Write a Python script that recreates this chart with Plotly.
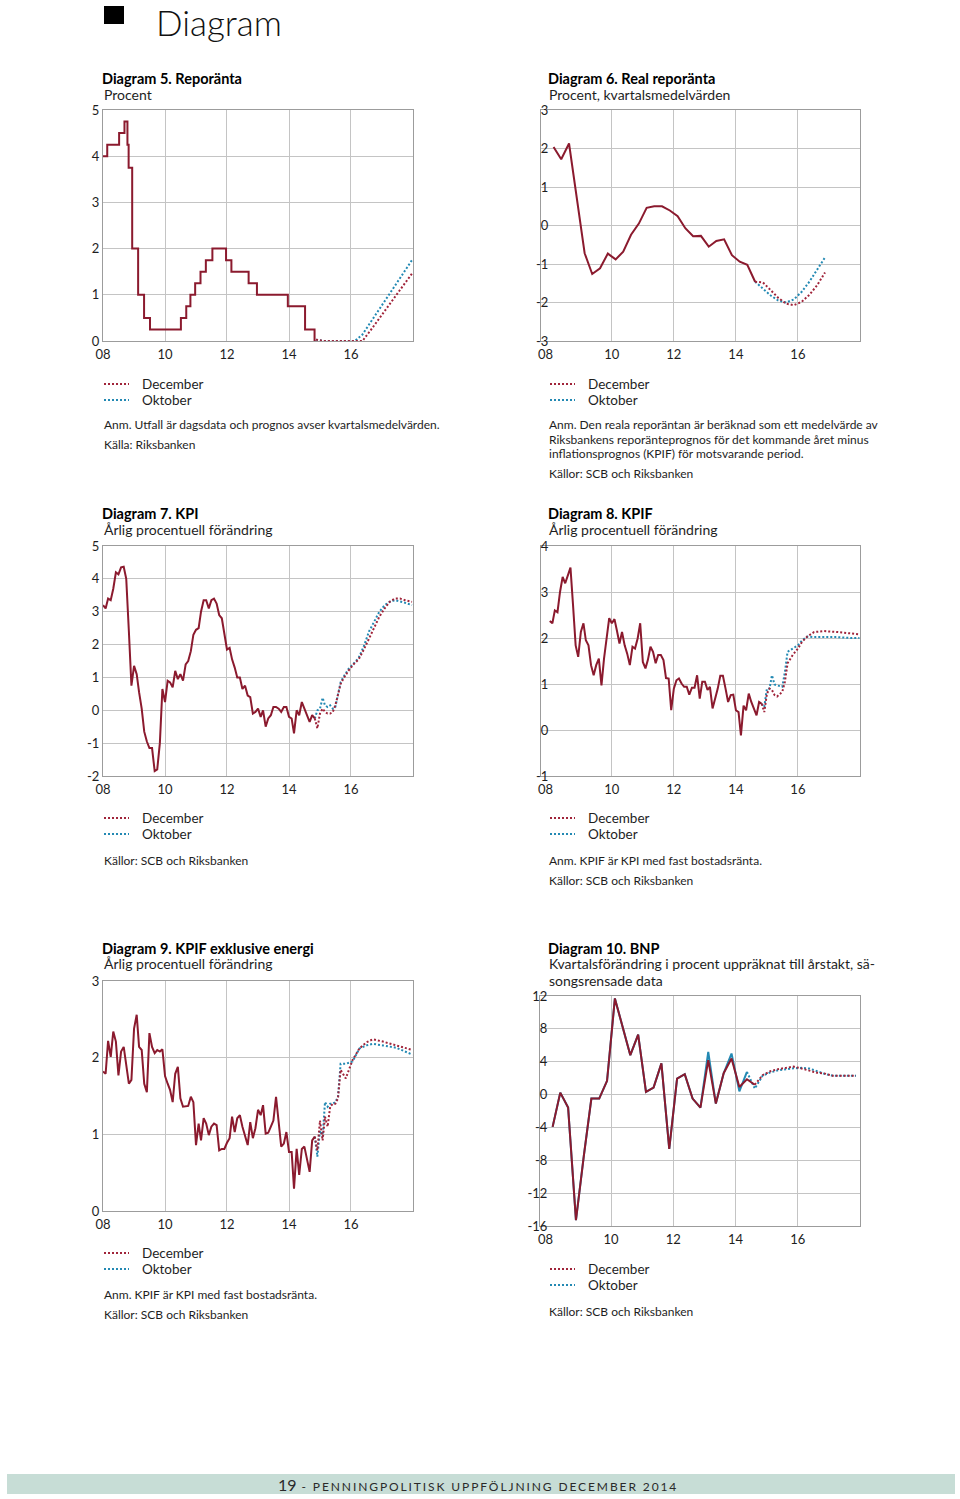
import pandas as pd
import plotly.graph_objects as go

# ------------------------------------------------------------------ data
# Diagram 5. Reporänta
repo_dates = ["2008-01-01", "2008-02-20", "2008-07-09", "2008-09-10", "2008-10-15", "2008-10-29",
              "2008-12-10", "2009-02-18", "2009-04-29", "2009-07-08", "2010-07-07", "2010-09-08",
              "2010-10-27", "2010-12-22", "2011-02-23", "2011-04-27", "2011-07-13", "2011-12-21",
              "2012-02-22", "2012-09-12", "2012-12-19", "2013-12-18", "2014-07-09", "2014-10-29",
              "2014-11-12"]
repo_values = [4.0, 4.25, 4.5, 4.75, 4.25, 3.75, 2.0, 1.0, 0.5, 0.25, 0.5, 0.75, 1.0, 1.25, 1.5,
               1.75, 2.0, 1.75, 1.5, 1.25, 1.0, 0.75, 0.25, 0.0, 0.0]
repo_fc_dates = ["2014-11-15", "2015-02-15", "2015-05-15", "2015-08-15", "2015-11-15", "2016-02-15",
                 "2016-05-15", "2016-08-15", "2016-11-15", "2017-02-15", "2017-05-15", "2017-08-15",
                 "2017-12-20"]
repo_fc_dec = [0.03, 0.0, 0.0, 0.0, 0.0, 0.0, 0.0, 0.22, 0.45, 0.68, 0.9, 1.13, 1.46]
repo_fc_okt = [0.03, 0.0, 0.0, 0.0, 0.0, 0.0, 0.14, 0.39, 0.64, 0.89, 1.13, 1.38, 1.75]

# Diagram 6. Real reporänta (quarterly)
q_dates = [f"{y}-{m:02d}-15" for y in range(2008, 2015) for m in (2, 5, 8, 11)][:27]
real_values = [2.04, 1.72, 2.13, 0.75, -0.72, -1.26, -1.11, -0.73, -0.88, -0.68, -0.24, 0.05,
               0.46, 0.50, 0.50, 0.39, 0.24, -0.07, -0.28, -0.27, -0.55, -0.40, -0.36, -0.77,
               -0.94, -1.02, -1.46]
real_fc_dates = ["2014-08-15", "2014-11-15", "2015-02-15", "2015-05-15", "2015-08-15", "2015-11-15",
                 "2016-02-15", "2016-05-15", "2016-08-15", "2016-11-15"]
real_fc_dec = [-1.46, -1.48, -1.68, -1.88, -2.03, -2.07, -1.98, -1.80, -1.55, -1.22]
real_fc_okt = [-1.46, -1.65, -1.82, -1.95, -2.00, -1.92, -1.72, -1.46, -1.15, -0.83]

# monthly outcome dates Jan 2008 - Nov 2014
m_dates = pd.date_range("2008-01-01", periods=83, freq="MS")

# Diagram 7. KPI
kpi_values = [3.2, 3.1, 3.4, 3.35, 3.7, 4.2, 4.14, 4.35, 4.37, 4.0, 2.4, 0.75,
              1.35, 1.1, 0.55, 0.05, -0.65, -0.95, -1.15, -1.15, -1.85, -1.8, -1.0, 0.65,
              0.25, 0.9, 0.85, 0.7, 1.2, 0.95, 1.1, 0.9, 1.4, 1.5, 1.8, 2.3,
              2.45, 2.5, 3.0, 3.35, 3.35, 3.1, 3.35, 3.4, 3.25, 2.9, 2.8, 2.35,
              1.85, 1.9, 1.55, 1.3, 1.0, 1.0, 0.65, 0.75, 0.45, 0.4, -0.1, -0.05,
              0.05, -0.2, 0.0, -0.5, -0.25, -0.15, 0.1, 0.1, 0.05, -0.05, 0.1, 0.1,
              -0.2, -0.25, -0.7, 0.0, -0.15, 0.25, 0.05, -0.15, -0.35, -0.15, -0.25]
kpi_fc_dates = ["2014-11-01", "2014-12-01", "2015-01-01", "2015-02-01", "2015-03-01", "2015-04-01",
                "2015-05-01", "2015-06-01", "2015-07-01", "2015-08-01", "2015-09-01", "2015-10-01",
                "2015-11-01", "2015-12-01", "2016-02-01", "2016-04-01", "2016-06-01", "2016-08-01",
                "2016-10-01", "2016-12-01", "2017-02-01", "2017-04-01", "2017-06-01", "2017-08-01",
                "2017-10-01", "2017-12-20"]
kpi_fc_dec = [-0.25, -0.55, -0.1, 0.05, -0.05, -0.1, -0.1, -0.05, 0.15, 0.45, 0.8, 0.95,
              1.1, 1.2, 1.4, 1.55, 1.85, 2.2, 2.55, 2.85, 3.1, 3.3, 3.4, 3.4, 3.35, 3.3]
kpi_fc_okt = [-0.25, 0.0, 0.05, 0.38, 0.15, 0.1, 0.15, 0.05, 0.1, 0.5, 0.85, 1.0,
              1.15, 1.25, 1.42, 1.6, 1.95, 2.4, 2.7, 3.0, 3.2, 3.3, 3.35, 3.32, 3.27, 3.2]

# Diagram 8. KPIF
kpif_values = [2.37, 2.32, 2.6, 2.56, 3.0, 3.33, 3.19, 3.38, 3.53, 2.72, 1.84, 1.59,
               2.13, 2.32, 1.95, 1.84, 1.41, 1.19, 1.41, 1.55, 0.97, 1.55, 2.06, 2.43,
               2.32, 2.41, 2.17, 1.88, 2.13, 1.84, 1.66, 1.41, 1.81, 1.77, 1.99, 2.32,
               1.48, 1.34, 1.52, 1.81, 1.7, 1.45, 1.63, 1.63, 1.52, 1.13, 1.12, 0.43,
               0.9, 1.08, 1.12, 1.01, 0.94, 0.94, 0.77, 0.92, 0.92, 1.19, 0.68, 1.05,
               1.05, 0.87, 0.94, 0.47, 0.68, 0.9, 1.18, 1.18, 0.9, 0.61, 0.76, 0.77,
               0.43, 0.39, -0.12, 0.53, 0.43, 0.79, 0.61, 0.47, 0.32, 0.61, 0.57]
kpif_fc_dates = ["2014-11-01", "2014-12-01", "2015-01-01", "2015-02-01", "2015-03-01", "2015-04-01",
                 "2015-05-01", "2015-07-01", "2015-08-01", "2015-09-01", "2015-11-01", "2016-01-01",
                 "2016-02-20", "2016-04-20", "2016-07-10", "2016-11-05", "2017-04-10", "2017-09-15",
                 "2017-12-25"]
kpif_fc_dec = [0.57, 0.39, 0.79, 0.9, 0.87, 0.76, 0.73, 0.83, 1.05, 1.45, 1.63, 1.77,
               1.92, 2.03, 2.13, 2.15, 2.13, 2.1, 2.08]
kpif_fc_okt = [0.57, 0.5, 0.9, 0.9, 1.19, 0.99, 0.97, 0.94, 1.26, 1.7, 1.77, 1.84,
               1.95, 2.03, 2.02, 2.02, 2.02, 2.0, 2.0]

# Diagram 9. KPIF exklusive energi
kpifx_values = [1.82, 1.79, 2.22, 2.01, 2.34, 2.21, 1.77, 2.08, 2.14, 1.88, 1.66, 1.71,
                2.38, 2.56, 2.14, 2.1, 1.66, 1.55, 2.32, 2.14, 2.06, 2.1, 2.08, 2.11,
                1.76, 1.66, 1.58, 1.42, 1.79, 1.88, 1.47, 1.36, 1.37, 1.37, 1.49, 1.42,
                0.86, 1.14, 0.92, 1.21, 1.14, 0.99, 1.1, 1.14, 1.12, 0.79, 0.81, 0.81,
                0.89, 0.95, 1.23, 1.03, 1.21, 1.25, 1.1, 0.97, 0.86, 1.16, 0.95, 1.08,
                1.32, 1.25, 1.38, 1.01, 1.02, 1.1, 1.18, 1.49, 1.18, 0.84, 0.88, 1.03,
                0.77, 0.77, 0.29, 0.81, 0.47, 0.81, 0.84, 0.66, 0.51, 0.92, 0.97]
kpifx_fc_dates = ["2014-11-01", "2014-12-01", "2015-01-01", "2015-02-01", "2015-03-01", "2015-04-01",
                  "2015-05-01", "2015-06-01", "2015-07-01", "2015-08-01", "2015-09-01", "2015-10-01",
                  "2015-11-01", "2016-01-20", "2016-04-10", "2016-07-01", "2016-09-15", "2017-01-10",
                  "2017-06-15", "2017-12-25"]
kpifx_fc_dec = [0.97, 0.79, 1.18, 0.92, 1.23, 1.1, 1.36, 1.4, 1.4, 1.47, 1.84, 1.79,
                1.73, 1.97, 2.12, 2.2, 2.24, 2.21, 2.16, 2.1]
kpifx_fc_okt = [0.97, 0.71, 1.05, 0.97, 1.42, 1.36, 1.4, 1.4, 1.42, 1.49, 1.92, 1.92,
                1.92, 1.95, 2.12, 2.16, 2.18, 2.16, 2.13, 2.04]

# Diagram 10. BNP (quarterly)
bnp_dec = [-3.93, 0.24, -1.59, -15.3, -7.5, -0.49, -0.49, 1.67, 11.7, 8.46, 4.8, 7.3,
           0.33, 0.85, 3.8, -6.6, 1.95, 2.48, -0.49, -1.6, 4.2, -1.1, 2.6, 4.4,
           0.93, 1.87, 1.2]
bnp_okt = [-3.93, 0.24, -1.59, -15.3, -7.5, -0.49, -0.49, 1.67, 11.7, 8.46, 4.8, 7.3,
           0.33, 0.85, 3.8, -6.6, 1.95, 2.48, -0.49, -1.6, 5.2, -1.1, 2.6, 5.0,
           0.4, 2.76]
bnp_fc_dates_dec = ["2014-08-15", "2014-11-15", "2015-02-15", "2015-05-15", "2015-08-15",
                    "2015-11-15", "2016-02-15", "2016-05-15", "2016-08-15", "2016-11-15",
                    "2017-02-15", "2017-05-15", "2017-08-15", "2017-11-15"]
bnp_fc_dec = [1.2, 2.36, 2.85, 3.1, 3.25, 3.4, 3.17, 2.9, 2.66, 2.55, 2.3, 2.3, 2.3, 2.3]
bnp_fc_dates_okt = ["2014-05-15"] + bnp_fc_dates_dec
bnp_fc_okt = [2.76, 0.73, 2.3, 2.7, 2.95, 3.1, 3.2, 3.25, 3.17, 2.85, 2.5, 2.3, 2.3, 2.3, 2.3]

x_tick_years = ["2008-01-01", "2010-01-01", "2012-01-01", "2014-01-01", "2016-01-01"]
x_tick_text = ["08", "10", "12", "14", "16"]

# ------------------------------------------------------------------ style
W, H = 960, 1499
FONT = "Lato"
RED = "#8b1a2e"
RED_DOT = "#a0243a"
BLUE = "#2389b3"
GRID = "#c4c4c4"
FRAME = "#9c9c9c"
TXT = "#1e1e1e"
DOT = "2px,2px"


def px(x):
    return x / W


def py(y):
    return 1 - y / H


fig = go.Figure()

panels = {
    # n: (x0, x1, ytop, ybottom, yrange, ytick step, left column)
    1: (103, 413, 110, 341, (0, 5), 1, True),
    2: (541, 860, 110, 341, (-3, 3), 1, False),
    3: (103, 413, 546, 776, (-2, 5), 1, True),
    4: (541, 860, 546, 776, (-1, 4), 1, False),
    5: (103, 413, 981, 1211, (0, 3), 1, True),
    6: (540, 860, 996, 1226, (-16, 12), 4, False),
}

layout_axes = {}
for n, (x0, x1, yt, yb, yr, step, left) in panels.items():
    xs = "" if n == 1 else str(n)
    if left:
        xrange = ["2008-01-01", "2018-01-01"]
        tv, tt = x_tick_years, x_tick_text
    else:
        xrange = ["2007-09-20", "2018-01-01"]
        tv, tt = x_tick_years[1:], x_tick_text[1:]
    layout_axes["xaxis" + xs] = dict(
        domain=[px(x0), px(x1)], anchor="y" + xs, type="date", range=xrange,
        tickvals=tv, ticktext=tt, showgrid=True, gridcolor=GRID, gridwidth=1,
        showline=True, linecolor=FRAME, linewidth=1, mirror=True, ticks="",
        zeroline=False, tickfont=dict(family=FONT, size=13, color=TXT),
        ticklabelstandoff=1, automargin=False, fixedrange=True)
    yvals = list(range(yr[0], yr[1] + 1, step))
    layout_axes["yaxis" + xs] = dict(
        domain=[py(yb), py(yt)], anchor="x" + xs, range=list(yr), tickvals=yvals,
        ticktext=[str(v) for v in yvals], showgrid=True, gridcolor=GRID, gridwidth=1,
        showline=True, linecolor=FRAME, linewidth=1, mirror=True, ticks="",
        zeroline=False, tickfont=dict(family=FONT, size=13, color=TXT),
        ticklabelstandoff=(0 if left else -11), automargin=False, fixedrange=True)

fig.update_layout(**layout_axes)


def add_line(n, x, y, color, dotted=False, shape="linear"):
    xs = "" if n == 1 else str(n)
    fig.add_trace(go.Scatter(
        x=x, y=y, mode="lines", xaxis="x" + xs, yaxis="y" + xs, showlegend=False,
        hoverinfo="skip",
        line=dict(color=color, width=2, dash=(DOT if dotted else "solid"), shape=shape)))


# Diagram 5
add_line(1, repo_fc_dates, repo_fc_okt, BLUE, True)
add_line(1, repo_fc_dates, repo_fc_dec, RED_DOT, True)
add_line(1, repo_dates, repo_values, RED, shape="hv")
# Diagram 6
add_line(2, real_fc_dates, real_fc_okt, BLUE, True)
add_line(2, real_fc_dates, real_fc_dec, RED_DOT, True)
add_line(2, q_dates, real_values, RED)
# Diagram 7
add_line(3, kpi_fc_dates, kpi_fc_okt, BLUE, True)
add_line(3, kpi_fc_dates, kpi_fc_dec, RED_DOT, True)
add_line(3, m_dates, kpi_values, RED)
# Diagram 8
add_line(4, kpif_fc_dates, kpif_fc_okt, BLUE, True)
add_line(4, kpif_fc_dates, kpif_fc_dec, RED_DOT, True)
add_line(4, m_dates, kpif_values, RED)
# Diagram 9
add_line(5, kpifx_fc_dates, kpifx_fc_okt, BLUE, True)
add_line(5, kpifx_fc_dates, kpifx_fc_dec, RED_DOT, True)
add_line(5, m_dates, kpifx_values, RED)
# Diagram 10
add_line(6, q_dates[:26], bnp_okt, BLUE)
add_line(6, bnp_fc_dates_okt, bnp_fc_okt, BLUE, True)
add_line(6, q_dates, bnp_dec, RED)
add_line(6, bnp_fc_dates_dec, bnp_fc_dec, RED_DOT, True)

# ------------------------------------------------------------------ texts
annots = []


def txt(x, y, s, size=13, weight=400, color=TXT, anchor="left"):
    annots.append(dict(x=px(x), y=py(y), xref="paper", yref="paper", text=s,
                       showarrow=False, xanchor=anchor, yanchor="middle", align="left",
                       borderpad=0,
                       font=dict(family=FONT, size=size, color=color, weight=weight)))


shapes = []


def legend(x, y):
    shapes.append(dict(type="line", xref="paper", yref="paper", x0=px(x), x1=px(x + 25),
                       y0=py(y), y1=py(y), line=dict(color=RED_DOT, width=2, dash=DOT)))
    shapes.append(dict(type="line", xref="paper", yref="paper", x0=px(x), x1=px(x + 25),
                       y0=py(y + 16), y1=py(y + 16), line=dict(color=BLUE, width=2, dash=DOT)))
    txt(x + 37, y, "December", size=13.5)
    txt(x + 37, y + 16, "Oktober", size=13.5)


TITLE = 14.5
SUB = 14
NOTE = 12

# header
shapes.append(dict(type="rect", xref="paper", yref="paper", x0=px(104), x1=px(124),
                   y0=py(24), y1=py(6), fillcolor="black", line=dict(width=0)))
fig.add_annotation(x=px(155), y=py(0), xref="paper", yref="paper", text="Diagram",
                   showarrow=False, xanchor="left", yanchor="top", borderpad=0,
                   font=dict(family=FONT, size=35, color="#111111", weight=300))

# Diagram 5
txt(101, 79, "Diagram 5. Reporänta", size=TITLE, weight=700, color="#000000")
txt(103, 95, "Procent", size=SUB)
legend(104, 384)
txt(103, 425, "Anm. Utfall är dagsdata och prognos avser kvartalsmedelvärden.", size=NOTE)
txt(103, 445, "Källa: Riksbanken", size=NOTE)

# Diagram 6
txt(547, 79, "Diagram 6. Real reporänta", size=TITLE, weight=700, color="#000000")
txt(548, 95, "Procent, kvartalsmedelvärden", size=SUB)
legend(550, 384)
txt(548, 425, "Anm. Den reala reporäntan är beräknad som ett medelvärde av", size=NOTE)
txt(548, 439, "Riksbankens reporänteprognos för det kommande året minus", size=NOTE)
txt(548, 453, "inflationsprognos (KPIF) för motsvarande period.", size=NOTE)
txt(548, 473, "Källor: SCB och Riksbanken", size=NOTE)

# Diagram 7
txt(101, 513, "Diagram 7. KPI", size=TITLE, weight=700, color="#000000")
txt(103, 529, "Årlig procentuell förändring", size=SUB)
legend(104, 818)
txt(103, 860, "Källor: SCB och Riksbanken", size=NOTE)

# Diagram 8
txt(547, 513, "Diagram 8. KPIF", size=TITLE, weight=700, color="#000000")
txt(548, 529, "Årlig procentuell förändring", size=SUB)
legend(550, 818)
txt(548, 860, "Anm. KPIF är KPI med fast bostadsränta.", size=NOTE)
txt(548, 880, "Källor: SCB och Riksbanken", size=NOTE)

# Diagram 9
txt(101, 948, "Diagram 9. KPIF exklusive energi", size=TITLE, weight=700, color="#000000")
txt(103, 964, "Årlig procentuell förändring", size=SUB)
legend(104, 1253)
txt(103, 1294, "Anm. KPIF är KPI med fast bostadsränta.", size=NOTE)
txt(103, 1314, "Källor: SCB och Riksbanken", size=NOTE)

# Diagram 10
txt(547, 948, "Diagram 10. BNP", size=TITLE, weight=700, color="#000000")
txt(548, 964, "Kvartalsförändring i procent uppräknat till årstakt, sä-", size=SUB)
txt(548, 980, "songsrensade data", size=SUB)
legend(550, 1269)
txt(548, 1311, "Källor: SCB och Riksbanken", size=NOTE)

# x label "08" for the right-hand panels (range starts before 2008, no grid line there)
for yb in (341, 776, 1226):
    txt(545, yb + 13, "08", size=13, anchor="center")

# footer
shapes.append(dict(type="rect", xref="paper", yref="paper", x0=px(7), x1=px(955),
                   y0=py(1494), y1=py(1474), fillcolor="#c7ddd6", line=dict(width=0),
                   layer="below"))
txt(277, 1484, "<span style='font-size:16px'>19</span>"
               "<span style='letter-spacing:1.9px'> - PENNINGPOLITISK UPPFÖLJNING DECEMBER 2014</span>",
    size=12, color="#2a2a2a")

fig.update_layout(width=W, height=H,
                  margin=dict(l=0, r=0, t=0, b=0, pad=0, autoexpand=False),
                  paper_bgcolor="white", plot_bgcolor="white",
                  shapes=shapes, showlegend=False,
                  font=dict(family=FONT, color=TXT))
for a in annots:
    fig.add_annotation(**a)

fig.write_html("out.html", config={"displayModeBar": False, "staticPlot": True},
               post_script="document.body.style.margin='0';document.body.style.padding='0';"
                           "document.body.style.overflow='hidden';")
